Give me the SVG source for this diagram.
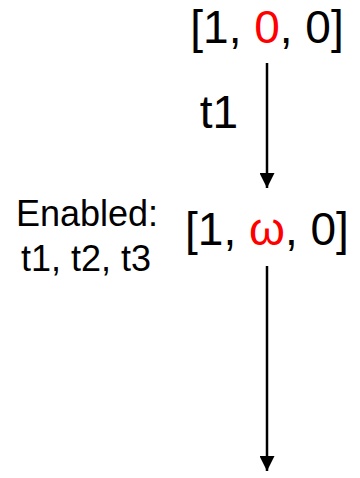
<svg xmlns="http://www.w3.org/2000/svg" width="360" height="478" viewBox="0 0 360 478">
<style>
text{font-family:"Liberation Sans",Arial,sans-serif;fill:#000}
.big{font-size:46px}
.red{fill:#ff0000}
.lbl{font-size:36px}
.edge{stroke:#000;stroke-width:2.5;fill:none}
</style>
<defs>
<marker id="ah" viewBox="0 0 10 10" refX="10" refY="5" markerWidth="6" markerHeight="6" markerUnits="strokeWidth" orient="auto">
<path d="M0,0 L10,5 L0,10 z" fill="#000"/>
</marker>
</defs>
<rect width="360" height="478" fill="#fff"/>
<g id="connectors">
<line class="edge" x1="267" y1="63" x2="267" y2="188" marker-end="url(#ah)"/>
<line class="edge" x1="267" y1="266" x2="267" y2="471" marker-end="url(#ah)"/>
<text class="big" x="219" y="128" text-anchor="middle">t1</text>
</g>
<g id="node1">
<text class="big" x="267" y="43" text-anchor="middle">[1, <tspan class="red">0</tspan>, 0]</text>
</g>
<g id="node2">
<text class="big" x="267" y="245" text-anchor="middle">[1, <tspan class="red">ω</tspan>, 0]</text>
</g>
<g id="enabled">
<text class="lbl" x="87" y="226" text-anchor="middle">Enabled:</text>
<text class="lbl" x="86" y="271" text-anchor="middle">t1, t2, t3</text>
</g>
</svg>
